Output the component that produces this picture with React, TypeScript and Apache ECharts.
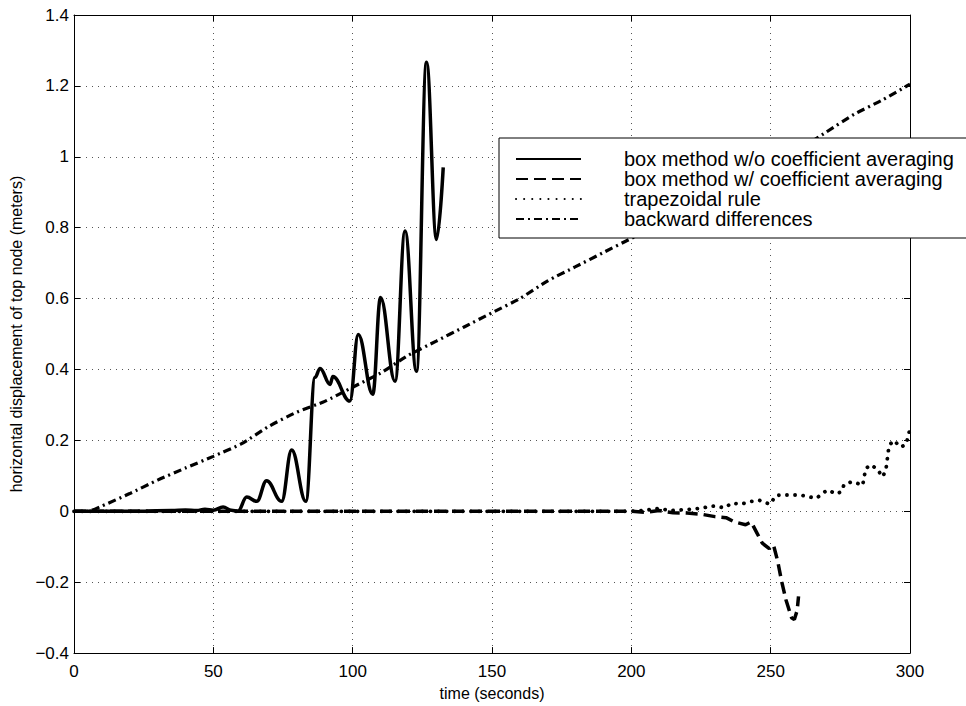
import React, { useEffect, useRef } from "react";
import * as echarts from "echarts";

const seriesNames = [
  "box method w/o coefficient averaging",
  "box method w/ coefficient averaging",
  "trapezoidal rule",
  "backward differences",
];

const xTicks = [0, 50, 100, 150, 200, 250, 300];

// box method w/o coefficient averaging (solid)
const solidT = [0, 20, 35, 40, 44, 47, 50, 53.5, 56.5, 58.8, 62, 65.6, 69.1, 74.5, 78.1, 83.2, 86.5, 88.3, 91.9, 92.9, 99, 102, 107.2, 110, 115.2, 118.8, 122.9, 126.5, 130.1, 132.5];
const solidV = [0, 0, 0.002, 0.004, 0.002, 0.006, 0.003, 0.012, 0.003, 0.0, 0.04, 0.028, 0.086, 0.028, 0.173, 0.028, 0.378, 0.403, 0.358, 0.38, 0.311, 0.499, 0.33, 0.603, 0.367, 0.791, 0.395, 1.267, 0.767, 0.97];

// box method w/ coefficient averaging (dashed)
const dashT = [0, 200, 205, 210, 215, 220, 225, 230, 234, 237, 241, 243, 245, 247, 249.5, 251, 252.5, 254, 255.5, 257.5, 258.5, 259.5, 260];
const dashV = [0, 0, -0.003, 0.002, -0.004, -0.005, -0.008, -0.015, -0.018, -0.03, -0.038, -0.03, -0.06, -0.09, -0.105, -0.095, -0.14, -0.2, -0.25, -0.3, -0.305, -0.28, -0.24];

// trapezoidal rule (dotted)
const dotT = [0, 200, 205, 210, 214, 218, 222, 226, 229, 233.6, 236, 239.3, 243, 246, 249.7, 252, 255, 260.5, 263.5, 266.5, 268.9, 270.7, 273.4, 275.5, 276.3, 279, 280.8, 283, 284.1, 285.8, 288.2, 290.1, 291.3, 292.5, 294.2, 296.6, 298.5, 299.3, 300];
const dotV = [0, 0, 0.003, 0.008, 0.002, 0.004, 0.006, 0.01, 0.015, 0.01, 0.023, 0.02, 0.028, 0.031, 0.02, 0.045, 0.046, 0.046, 0.041, 0.037, 0.053, 0.06, 0.049, 0.056, 0.075, 0.083, 0.08, 0.073, 0.12, 0.131, 0.12, 0.097, 0.114, 0.186, 0.2, 0.181, 0.188, 0.209, 0.234];

// backward differences (dash-dot)
const bdT = [0, 5, 10, 20, 30, 40, 50, 60, 70, 80, 90, 100, 110, 120, 130, 140, 150, 160, 170, 180, 190, 200, 210, 220, 230, 240, 250, 260, 270, 280, 290, 300];
const bdV = [0, 0, 0.015, 0.05, 0.088, 0.122, 0.155, 0.19, 0.24, 0.28, 0.31, 0.35, 0.39, 0.44, 0.48, 0.52, 0.56, 0.6, 0.65, 0.69, 0.73, 0.77, 0.81, 0.85, 0.89, 0.93, 0.98, 1.02, 1.07, 1.12, 1.16, 1.205];

const pairs = (t: number[], v: number[]) => t.map((x, i) => [x, v[i]]);

const FONT = "'Liberation Sans', Arial, Helvetica, sans-serif";

export default function App() {
  const ref = useRef<HTMLDivElement>(null);
  useEffect(() => {
    if (!ref.current) return;
    const chart = echarts.init(ref.current, undefined, { renderer: "svg" });
    const grid = "#555";
    const fmtY = (v: number) => {
      const r = Math.round(v * 10) / 10;
      return String(r).replace("-", "\u2212");
    };
    const option: any = {
      animation: false,
      backgroundColor: "#fff",
      textStyle: { fontFamily: FONT, color: "#000" },
      grid: { left: 74, right: 56, top: 15, bottom: 52, containLabel: false },
      legend: {
        orient: "vertical",
        left: 499,
        top: 138,
        data: seriesNames,
        backgroundColor: "#fff",
        borderColor: "#000",
        borderWidth: 1,
        borderRadius: 0,
        padding: [11, 40, 9, 16],
        itemWidth: 65,
        itemHeight: 14,
        itemGap: 0,
        selectedMode: false,
        itemStyle: { color: "rgba(0,0,0,0)", borderWidth: 0, opacity: 0 },
        textStyle: { fontSize: 20, color: "#000", fontFamily: FONT, padding: [0, 0, 0, 38] },
      },
      xAxis: [
        {
          type: "value",
          min: 0,
          max: 300,
          interval: 50,
          name: "time (seconds)",
          nameLocation: "middle",
          nameGap: 30,
          nameTextStyle: { fontSize: 16, color: "#000", fontFamily: FONT },
          axisLine: { show: true, onZero: false, lineStyle: { color: "#000", width: 1 } },
          axisTick: { show: true, inside: true, length: 6, lineStyle: { color: "#000" } },
          axisLabel: { fontSize: 17, color: "#000", margin: 10, fontFamily: FONT },
          splitLine: { show: true, lineStyle: { color: grid, width: 1, type: [1, 5] } },
        },
        {
          type: "value",
          position: "top",
          min: 0,
          max: 300,
          interval: 50,
          axisLine: { show: true, onZero: false, lineStyle: { color: "#000", width: 1 } },
          axisTick: { show: true, inside: true, length: 6, lineStyle: { color: "#000" } },
          axisLabel: { show: false },
          splitLine: { show: false },
        },
      ],
      yAxis: [
        {
          type: "value",
          min: -0.4,
          max: 1.4,
          interval: 0.2,
          name: "horizontal displacement of top node (meters)",
          nameLocation: "middle",
          nameGap: 46,
          nameTextStyle: { fontSize: 16, color: "#000", fontFamily: FONT },
          axisLine: { show: true, onZero: false, lineStyle: { color: "#000", width: 1 } },
          axisTick: { show: true, inside: true, length: 6, lineStyle: { color: "#000" } },
          axisLabel: { fontSize: 17, color: "#000", margin: 5, formatter: fmtY, fontFamily: FONT },
          splitLine: { show: true, lineStyle: { color: grid, width: 1, type: [1, 5] } },
        },
        {
          type: "value",
          position: "right",
          min: -0.4,
          max: 1.4,
          interval: 0.2,
          axisLine: { show: true, onZero: false, lineStyle: { color: "#000", width: 1 } },
          axisTick: { show: true, inside: true, length: 6, lineStyle: { color: "#000" } },
          axisLabel: { show: false },
          splitLine: { show: false },
        },
      ],
      series: [
        {
          name: seriesNames[3],
          type: "line",
          data: pairs(bdT, bdV),
          symbol: "none",
          smooth: 0.2,
          lineStyle: { color: "#000", width: 3.2, type: [8, 4, 2, 4] },
          itemStyle: { color: "#000" },
          z: 3,
        },
        {
          name: seriesNames[2],
          type: "line",
          data: pairs(dotT, dotV),
          symbol: "none",
          lineStyle: { color: "#000", width: 3.8, type: [0.1, 8], cap: "round" },
          itemStyle: { color: "#000" },
          z: 3,
        },
        {
          name: seriesNames[1],
          type: "line",
          data: pairs(dashT, dashV),
          symbol: "none",
          lineStyle: { color: "#000", width: 3.5, type: [12, 6] },
          itemStyle: { color: "#000" },
          z: 3,
        },
        {
          name: seriesNames[0],
          type: "line",
          data: pairs(solidT, solidV),
          symbol: "none",
          smooth: 0.4,
          smoothMonotone: "x",
          lineStyle: { color: "#000", width: 3.5 },
          itemStyle: { color: "#000" },
          z: 4,
        },
      ],
    };
    chart.setOption(option);
    return () => chart.dispose();
  }, []);
  return (
    <div
      ref={ref}
      style={{ position: "absolute", left: 0, top: 0, width: 966, height: 706 }}
    />
  );
}
